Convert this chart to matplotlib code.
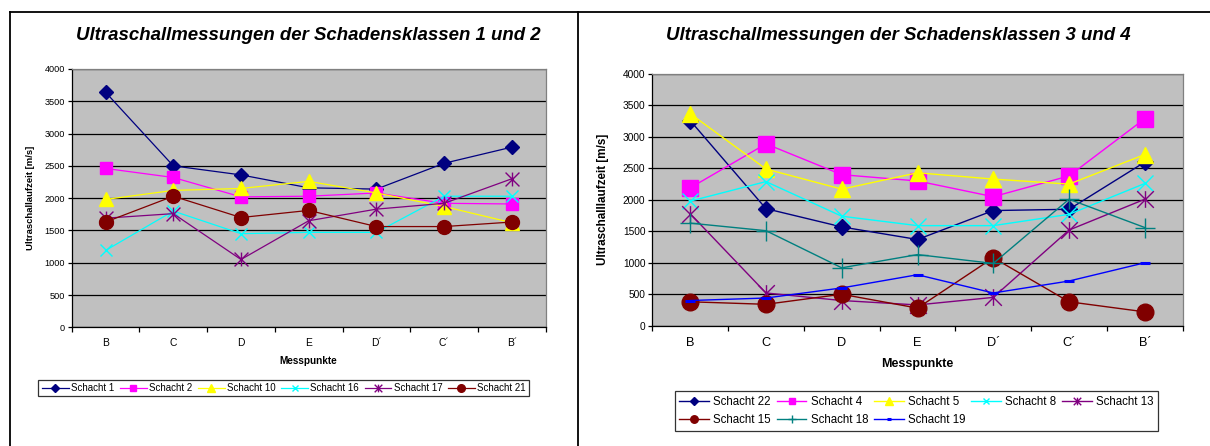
import matplotlib
matplotlib.use("Agg")
import matplotlib.pyplot as plt
import numpy as np
from matplotlib.lines import Line2D
from matplotlib.path import Path

plt.rcParams['font.family'] = ['Liberation Sans', 'DejaVu Sans']

# Messpunkte (categories)
messpunkte = ['B', 'C', 'D', 'E', 'D\u00b4', 'C\u00b4', 'B\u00b4']
y_ticks = [0, 500, 1000, 1500, 2000, 2500, 3000, 3500, 4000]

# Schadensklassen 1 und 2
schacht_1 = [3640, 2500, 2360, 2160, 2140, 2540, 2790]
schacht_2 = [2460, 2320, 2020, 2030, 2080, 1920, 1910]
schacht_10 = [1980, 2120, 2150, 2260, 2080, 1870, 1620]
schacht_16 = [1190, 1800, 1450, 1470, 1470, 2030, 2030]
schacht_17 = [1690, 1760, 1050, 1650, 1830, 1920, 2300]
schacht_21 = [1630, 2030, 1700, 1810, 1560, 1560, 1630]

# Schadensklassen 3 und 4
schacht_22 = [3260, 1860, 1570, 1370, 1830, 1850, 2600]
schacht_4 = [2190, 2890, 2400, 2300, 2050, 2380, 3290]
schacht_5 = [3370, 2490, 2170, 2430, 2330, 2250, 2720]
schacht_8 = [1980, 2290, 1740, 1590, 1590, 1770, 2260]
schacht_13 = [1780, 520, 400, 330, 450, 1520, 2010]
schacht_15 = [380, 340, 500, 280, 1080, 380, 220]
schacht_18 = [1630, 1510, 920, 1130, 990, 2010, 1560]
schacht_19 = [400, 440, 600, 810, 520, 710, 1000]

# Excel style asterisk marker (vertical bar + X)
star = Path([(0, -1), (0, 1), (-1, -1), (1, 1), (-1, 1), (1, -1)],
            [Path.MOVETO, Path.LINETO, Path.MOVETO, Path.LINETO,
             Path.MOVETO, Path.LINETO])

# label, values, color, marker, markersize
left_series = [
    ('Schacht 1', schacht_1, '#000080', 'D', 7),
    ('Schacht 2', schacht_2, '#FF00FF', 's', 9),
    ('Schacht 10', schacht_10, '#FFFF00', '^', 10),
    ('Schacht 16', schacht_16, '#00FFFF', 'x', 9),
    ('Schacht 17', schacht_17, '#800080', star, 10),
    ('Schacht 21', schacht_21, '#800000', 'o', 10),
]
right_series = [
    ('Schacht 22', schacht_22, '#000080', 'D', 8.5),
    ('Schacht 4', schacht_4, '#FF00FF', 's', 11),
    ('Schacht 5', schacht_5, '#FFFF00', '^', 12),
    ('Schacht 8', schacht_8, '#00FFFF', 'x', 11),
    ('Schacht 13', schacht_13, '#800080', star, 12),
    ('Schacht 15', schacht_15, '#800000', 'o', 12),
    ('Schacht 18', schacht_18, '#008080', '+', 14),
    ('Schacht 19', schacht_19, '#0000FF', '_', 7),
]


def draw_chart(ax, series, lw, tick_fs, xtick_fs, ylabel, ylabel_fs, xlabel_fs):
    x = np.arange(len(messpunkte))
    for label, vals, color, marker, ms in series:
        ax.plot(x, vals, color=color, lw=lw, marker=marker, ms=ms,
                mfc=color, mec=color,
                mew=2.2 if marker == '_' else 1.0, label=label)
    ax.set_facecolor('#C0C0C0')
    ax.set_xlim(-0.5, len(messpunkte) - 0.5)
    ax.set_ylim(0, 4000)
    ax.set_yticks(y_ticks)
    ax.set_yticklabels([str(v) for v in y_ticks], fontsize=tick_fs)
    ax.yaxis.grid(True, color='black', lw=0.9)
    ax.set_axisbelow(True)
    # category boundaries as major ticks, labels on minor ticks
    ax.set_xticks(np.arange(-0.5, len(messpunkte), 1.0))
    ax.set_xticklabels([])
    ax.set_xticks(x, minor=True)
    ax.set_xticklabels(messpunkte, minor=True, fontsize=xtick_fs)
    ax.tick_params(axis='x', which='major', length=3.5, width=0.9, direction='out')
    ax.tick_params(axis='x', which='minor', length=0, pad=8)
    ax.tick_params(axis='y', length=3, width=0.9, pad=2)
    for side in ('top', 'right'):
        ax.spines[side].set_color('#808080')
        ax.spines[side].set_linewidth(0.9)
    for side in ('left', 'bottom'):
        ax.spines[side].set_color('black')
        ax.spines[side].set_linewidth(0.9)
    ax.set_ylabel(ylabel, fontsize=ylabel_fs, fontweight='bold')
    ax.set_xlabel('Messpunkte', fontsize=xlabel_fs, fontweight='bold')


fig = plt.figure(figsize=(12.1, 4.46), dpi=100)
W, H = 1210, 446

ax1 = fig.add_axes([71.7 / W, 1 - 327.3 / H, 474 / W, 258.3 / H])
ax2 = fig.add_axes([652.3 / W, 1 - 325.7 / H, 530.4 / W, 251.7 / H])

draw_chart(ax1, left_series, 0.9, 6.6, 7.4, 'Ultraschallaufzeit [m/s]', 6.8, 7.2)
draw_chart(ax2, right_series, 1.0, 7.3, 9.2, 'Ultraschalllaufzeit [m/s]', 8.4, 9.0)

ax1.yaxis.set_label_coords(-0.0865, 0.5)
ax1.xaxis.set_label_coords(0.5, -(360.7 - 327.3) / 258.3)
ax1.xaxis.label.set_va('center')
ax1.yaxis.label.set_va('center')
ax2.yaxis.set_label_coords(-0.093, 0.5)
ax2.xaxis.set_label_coords(0.5, -(364 - 325.7) / 251.7)
ax2.xaxis.label.set_va('center')
ax2.yaxis.label.set_va('center')

fig.text(308 / W, 1 - 35 / H, 'Ultraschallmessungen der Schadensklassen 1 und 2',
         ha='center', va='center', fontsize=13.4, fontweight='bold', style='italic')
fig.text(898 / W, 1 - 35 / H, 'Ultraschallmessungen der Schadensklassen 3 und 4',
         ha='center', va='center', fontsize=13.4, fontweight='bold', style='italic')

leg1 = fig.legend(handles=ax1.get_lines(), loc='center',
                  bbox_to_anchor=(283.9 / W, 1 - 388 / H), ncol=6,
                  fontsize=7, handlelength=2.75, handletextpad=0.27,
                  columnspacing=0.55, borderpad=0.35, markerscale=0.55,
                  fancybox=False, frameon=True, edgecolor='black',
                  borderaxespad=0)
leg1.get_frame().set_linewidth(0.9)

# legend is filled column by column; reorder so it reads row by row
lines2 = ax2.get_lines()
order2 = [0, 5, 1, 6, 2, 7, 3, 4]
leg2 = fig.legend(handles=[lines2[i] for i in order2], loc='center',
                  bbox_to_anchor=(916.3 / W, 1 - 411 / H), ncol=5,
                  fontsize=8.3, handlelength=2.6, handletextpad=0.35,
                  columnspacing=0.5, borderpad=0.4, labelspacing=0.55,
                  markerscale=0.45, fancybox=False, frameon=True,
                  edgecolor='black', borderaxespad=0)
leg2.get_frame().set_linewidth(0.9)

# frame lines of the page layout
fig.add_artist(Line2D([10 / W, 1], [1 - 12 / H, 1 - 12 / H], color='black', lw=1.3))
fig.add_artist(Line2D([10 / W, 10 / W], [0, 1 - 12 / H], color='black', lw=1.3))
fig.add_artist(Line2D([577.7 / W, 577.7 / W], [0, 1 - 12 / H], color='black', lw=1.3))

fig.savefig('out.png', dpi=100)
